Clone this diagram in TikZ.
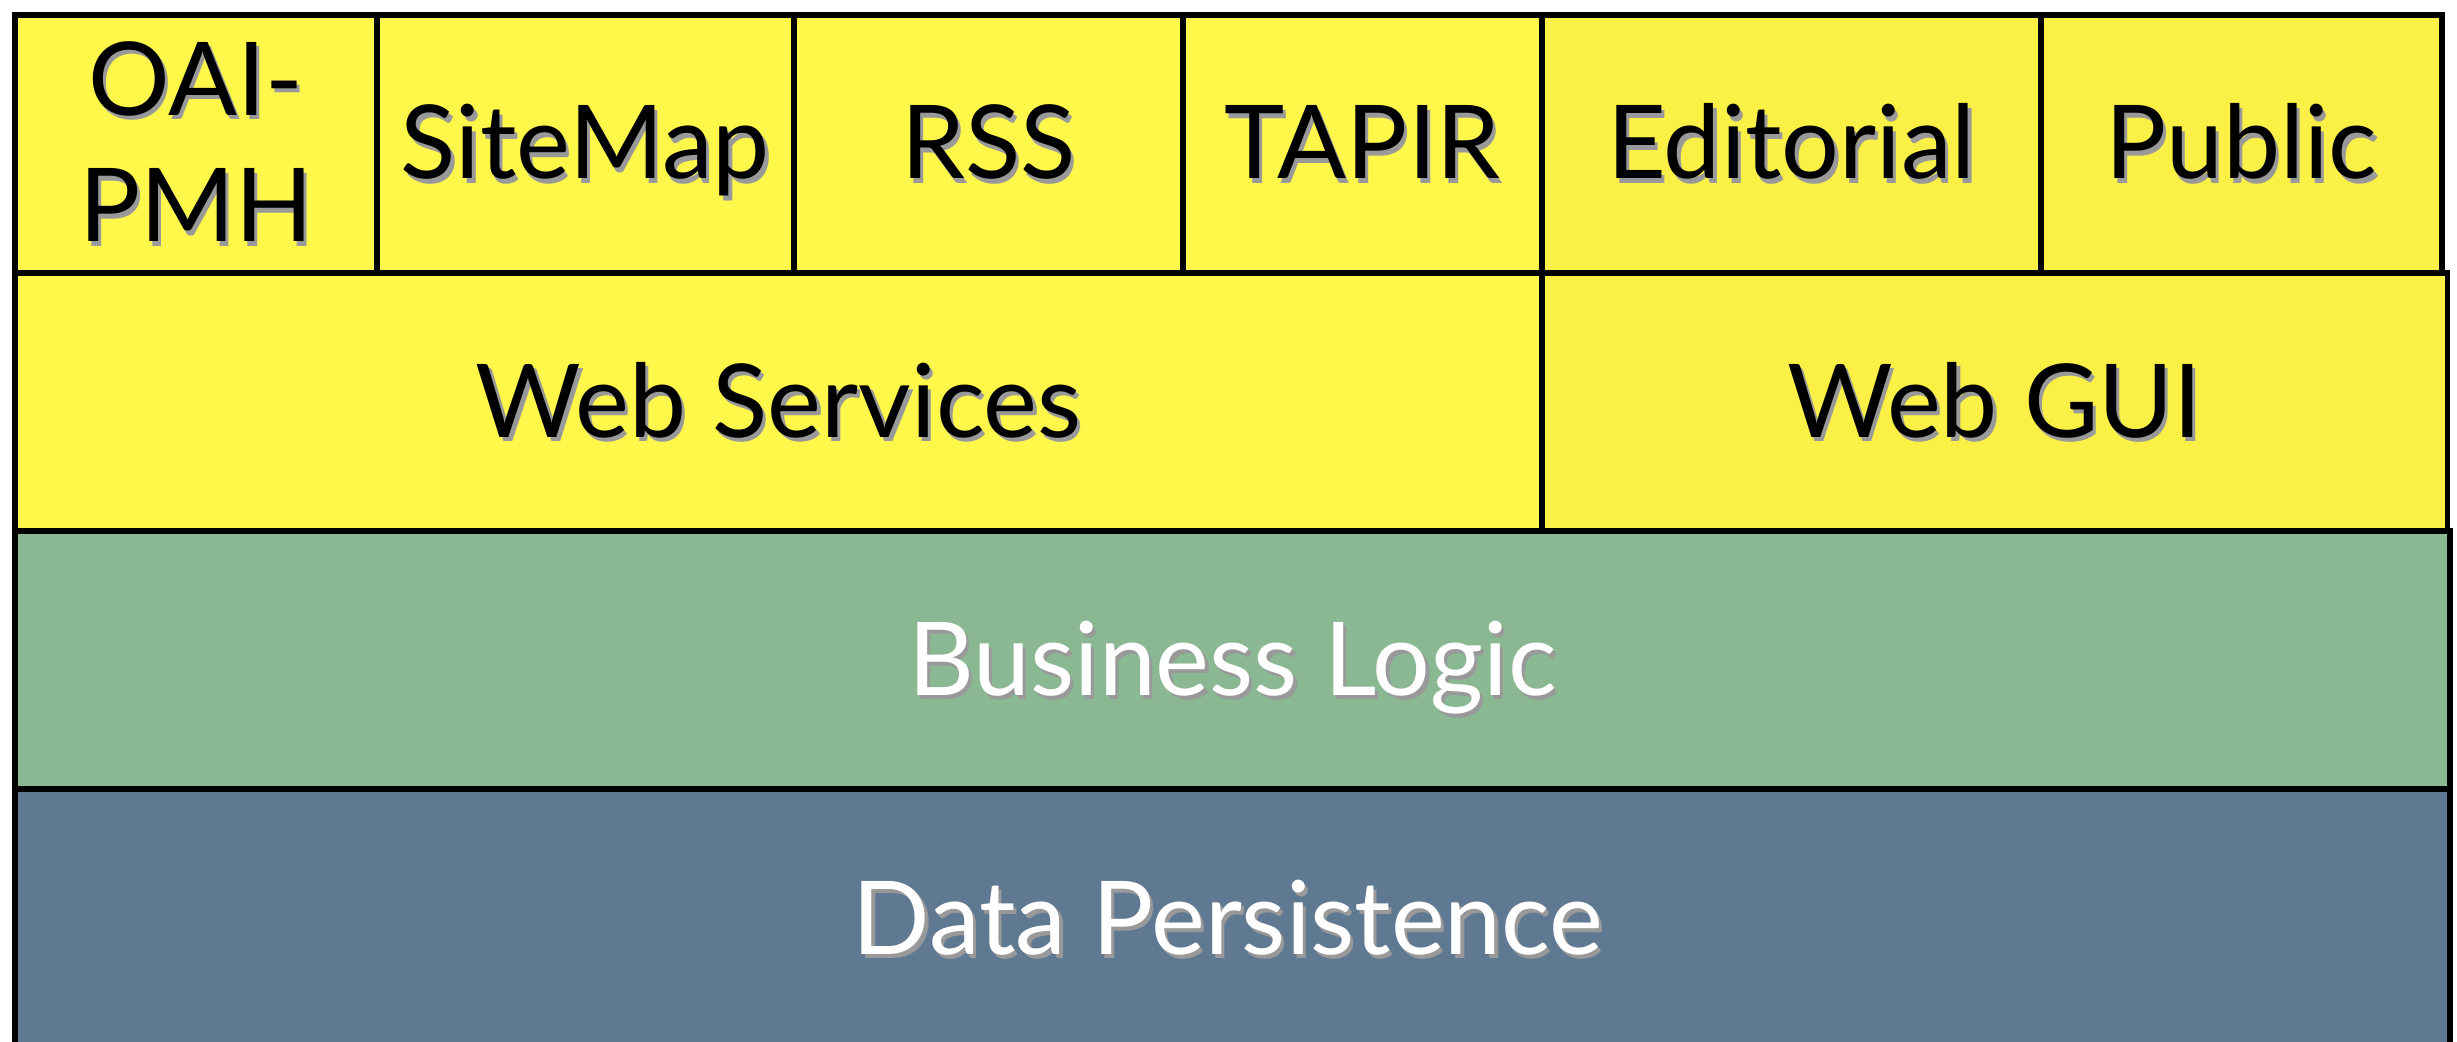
\documentclass[tikz,border=0pt]{standalone}
\usepackage{fontspec}
\setmainfont{Lato}
\usepackage{tikz}

\definecolor{cellyellow}{RGB}{255,248,74}
\definecolor{guiyellow}{RGB}{251,240,70}
\definecolor{logicgreen}{RGB}{138,184,147}
\definecolor{persistblue}{RGB}{96,121,147}

\newcommand{\shadowtext}[1]{\makebox[0pt][l]{\hspace{0.9pt}\raisebox{-1.3pt}{\textcolor{black!40}{#1}}}#1}

\begin{document}
\begin{tikzpicture}[x=0.01cm,y=-0.01cm,
  layer/.style={draw=black,line width=1.6pt,inner sep=0pt,anchor=north west,
    font=\fontsize{29}{36}\selectfont,text height=20pt,text depth=0pt},
  service/.style={layer,fill=cellyellow,minimum height=2.575cm},
  gui/.style={layer,fill=guiyellow,minimum height=2.575cm}]
\useasboundingbox (0,0) rectangle (2457,1041);
\fill[white] (0,0) rectangle (2457,1041);
\clip (0,0) rectangle (2457,1041);

% bottom layers
\node[layer,fill=persistblue,minimum width=24.34cm,minimum height=3.4cm] (persist) at (12,786) {};
\node[text=white,font=\fontsize{29}{36}\selectfont,text height=20pt,text depth=0pt,inner sep=0pt] (persisttext) at (1228,919) {\shadowtext{Data Persistence}};
\node[layer,fill=logicgreen,text=white,minimum width=24.34cm,minimum height=2.58cm] (logic) at (12,528) {\shadowtext{Business Logic}};

% web layer
\node[service,minimum width=15.27cm,minimum height=2.58cm] (websvc) at (12,270) {\shadowtext{Web Services}};
\node[gui,minimum width=9.05cm,minimum height=2.58cm] (webgui) at (1539,270) {\shadowtext{Web GUI}};

% protocols and interfaces
\node[service,minimum width=3.62cm,align=center,text height={},text depth={}] (oai) at (12,12) {\shadowtext{OAI-}\\\shadowtext{PMH}};
\node[service,minimum width=4.17cm] (sitemap) at (374,12) {\shadowtext{SiteMap}};
\node[service,minimum width=3.89cm] (rss) at (791,12) {\shadowtext{RSS}};
\node[service,minimum width=3.59cm] (tapir) at (1180,12) {\shadowtext{TAPIR}};
\node[gui,minimum width=4.99cm] (editorial) at (1539,12) {\shadowtext{Editorial}};
\node[gui,minimum width=4.01cm] (public) at (2038,12) {\shadowtext{Public}};
\end{tikzpicture}
\end{document}
